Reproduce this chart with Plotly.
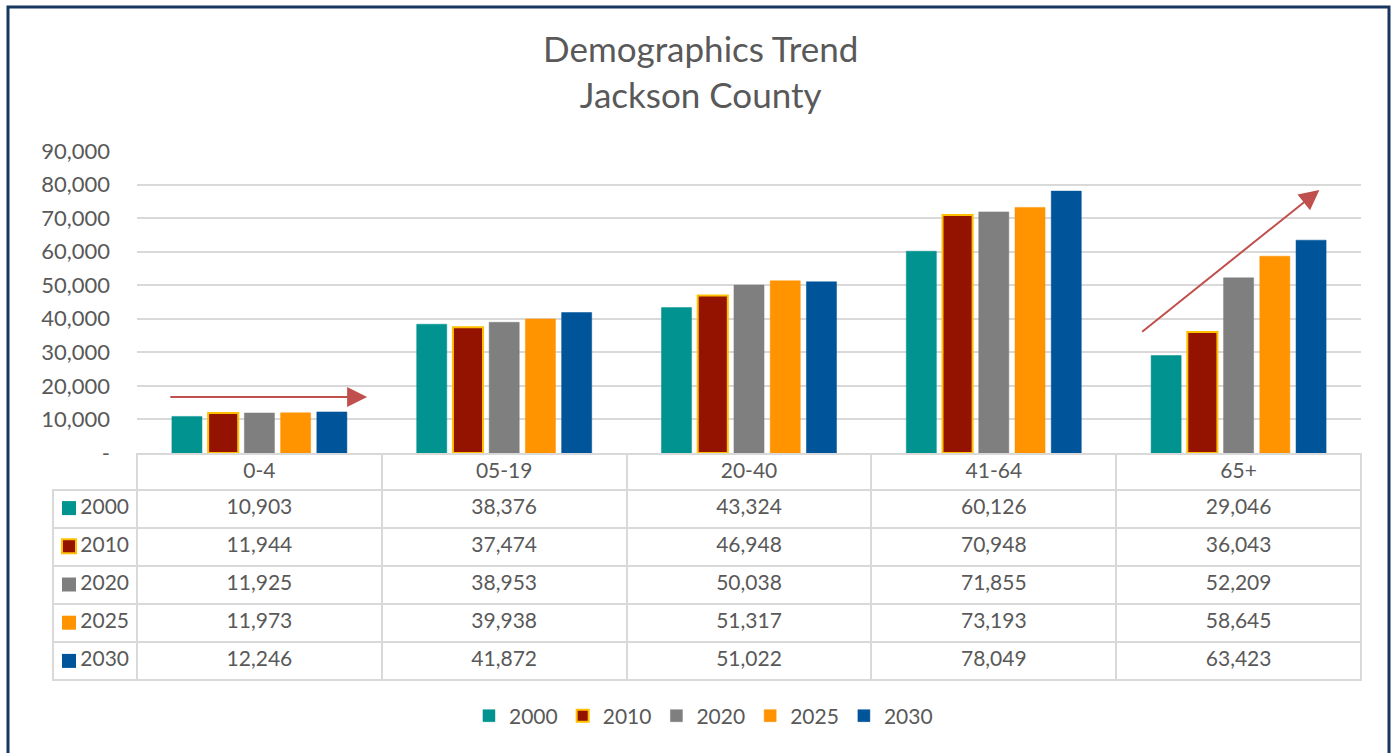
import plotly.graph_objects as go

# age groups and population by year
age_groups = ["0-4", "05-19", "20-40", "41-64", "65+"]
years = ["2000", "2010", "2020", "2025", "2030"]
pop_2000 = [10903, 38376, 43324, 60126, 29046]
pop_2010 = [11944, 37474, 46948, 70948, 36043]
pop_2020 = [11925, 38953, 50038, 71855, 52209]
pop_2025 = [11973, 39938, 51317, 73193, 58645]
pop_2030 = [12246, 41872, 51022, 78049, 63423]
y_ticks = [0, 10000, 20000, 30000, 40000, 50000, 60000, 70000, 80000, 90000]
y_tick_labels = ["-", "10,000", "20,000", "30,000", "40,000", "50,000",
                 "60,000", "70,000", "80,000", "90,000"]

series = [pop_2000, pop_2010, pop_2020, pop_2025, pop_2030]
colors = ["#00938F", "#931300", "#7F7F7F", "#FF9300", "#00549A"]
outlines = ["#00938F", "#FFC000", "#7F7F7F", "#FF9300", "#00549A"]

W, H = 1393, 753
FONT = "Lato"
GREY = "#595959"
GRID = "#D9D9D9"

def px_x(p):
    return p / W

def px_y(p):
    return 1 - p / H

fig = go.Figure()

for yr, vals, c, oc in zip(years, series, colors, outlines):
    fig.add_trace(go.Bar(
        x=age_groups, y=vals, name=yr,
        marker=dict(color=c, line=dict(color=oc, width=2 if yr == "2010" else 0.5)),
        xaxis="x", yaxis="y",
    ))

# colour keys in the left column of the data table
fig.add_trace(go.Scatter(
    x=[0] * len(years), y=years, mode="markers", showlegend=False, hoverinfo="skip",
    marker=dict(symbol="square", size=14, color=colors,
                line=dict(color=outlines, width=[0, 2, 0, 0, 0])),
    xaxis="x2", yaxis="y2",
))

# data table under the chart
fmt = lambda v: f"{v:,}"
fig.add_trace(go.Table(
    domain=dict(x=[px_x(137), px_x(1361)], y=[px_y(690), px_y(454)]),
    columnwidth=[1] * len(age_groups),
    header=dict(values=age_groups, height=36,
                fill_color="white", line=dict(color=GRID, width=2),
                font=dict(family=FONT, size=21, color=GREY), align="center"),
    cells=dict(values=[[fmt(s[i]) for s in series] for i in range(len(age_groups))],
               height=38, fill_color="white", line=dict(color=GRID, width=2),
               font=dict(family=FONT, size=21, color=GREY), align="center"),
))

fig.add_trace(go.Table(
    domain=dict(x=[px_x(53), px_x(137)], y=[px_y(690), px_y(490)]),
    header=dict(values=[years[0]], height=38,
                fill_color="rgba(0,0,0,0)", line=dict(color=GRID, width=2),
                font=dict(family=FONT, size=21, color=GREY), align="right"),
    cells=dict(values=[years[1:]], height=38, fill_color="rgba(0,0,0,0)",
               line=dict(color=GRID, width=2),
               font=dict(family=FONT, size=21, color=GREY), align="right"),
))

arrow = dict(xref="x", yref="y", axref="x", ayref="y", text="", showarrow=True,
             arrowhead=2, arrowsize=2, arrowwidth=2, arrowcolor="#C0504D")

fig.update_layout(
    width=W, height=H,
    margin=dict(l=0, r=0, t=0, b=0, autoexpand=False),
    paper_bgcolor="white", plot_bgcolor="white",
    font=dict(family=FONT, color=GREY, size=21),
    title=dict(text="Demographics Trend<br>Jackson County", x=0.503, xanchor="center",
               y=px_y(62), yanchor="middle", font=dict(size=35, color=GREY, family=FONT)),
    barmode="group", bargap=0.26, bargroupgap=0.17,
    xaxis=dict(domain=[px_x(137), px_x(1361)], showticklabels=False, showgrid=False,
               showline=False, zeroline=False, ticks=""),
    yaxis=dict(domain=[px_y(453), px_y(151)], range=[0, 90000],
               tickvals=y_ticks, ticktext=y_tick_labels, showgrid=True,
               gridcolor=GRID, gridwidth=2, zeroline=False, showline=False,
               ticklabelstandoff=26, tickfont=dict(size=22, color=GREY)),
    xaxis2=dict(domain=[px_x(53), px_x(85)], range=[-0.5, 0.5], visible=False),
    yaxis2=dict(domain=[px_y(680), px_y(489)], type="category", categoryarray=years,
                range=[4.5, -0.5], visible=False, anchor="x2"),
    legend=dict(orientation="h", x=0.505, xanchor="center", y=px_y(716), yanchor="middle",
                font=dict(size=21, color=GREY), itemclick=False),
    annotations=[
        dict(arrow, x=0.44, y=16700, ax=-0.37, ay=16700),
        dict(arrow, x=4.33, y=78400, ax=3.6, ay=35800),
    ],
    shapes=[dict(type="rect", xref="paper", yref="paper",
                 x0=px_x(8), x1=px_x(1389), y0=-0.02, y1=px_y(7),
                 line=dict(color="#17375E", width=3))],
)

fig.write_html("out.html", config={"displayModeBar": False},
               post_script="document.body.style.margin='0';")
